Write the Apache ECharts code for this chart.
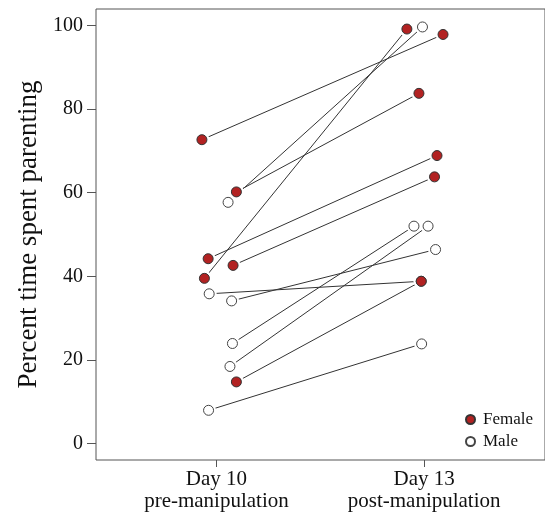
<!DOCTYPE html>
<html>
<head>
<meta charset="utf-8">
<script src="https://cdn.jsdelivr.net/npm/echarts@6/dist/echarts.min.js"></script>
<style>
  html, body { margin: 0; padding: 0; background: #fff; }
  #main { width: 545px; height: 514px; }
</style>
</head>
<body>
<div id="main"></div>
<script>
const dayTicks = [1, 2];
const dayLabels = ["Day 10\npre-manipulation", "Day 13\npost-manipulation"];
const yTicks = [0, 20, 40, 60, 80, 100];

// x positions are jittered around 1 (day 10) and 2 (day 13)
const femaleDay10X = [0.93, 1.096, 0.942, 0.96, 1.08, 1.096];
const femaleDay10 = [72.7, 60.2, 39.5, 44.2, 42.6, 14.7];
const femaleDay13X = [2.091, 1.975, 1.917, 2.062, 2.05, 1.986];
const femaleDay13 = [97.9, 83.8, 99.2, 68.9, 63.8, 38.8];

const maleDay10X = [1.056, 0.965, 1.073, 1.077, 1.065, 0.962];
const maleDay10 = [57.7, 35.8, 34.1, 23.9, 18.4, 7.9];
const maleDay13X = [1.992, 1.986, 2.055, 1.951, 2.019, 1.988];
const maleDay13 = [99.7, 38.8, 46.4, 52.0, 52.0, 23.8];

const serif = "Liberation Serif";

const pairLines = (x10, y10, x13, y13) =>
  y10.map((v, i) => ({
    type: "line",
    data: [[x10[i], v], [x13[i], y13[i]]],
    symbol: "none",
    silent: true,
    z: 1,
    lineStyle: { color: "#333", width: 1 },
  }));

const points = (x10, y10, x13, y13) =>
  [...y10.map((v, i) => [x10[i], v]), ...y13.map((v, i) => [x13[i], v])];

const femalePts = points(femaleDay10X, femaleDay10, femaleDay13X, femaleDay13);
const malePts = points(maleDay10X, maleDay10, maleDay13X, maleDay13);

const option = {
  animation: false,
  grid: {
    left: 96, top: 9, width: 451, height: 451,
    show: true, borderColor: "#555", borderWidth: 1,
  },
  xAxis: {
    type: "value",
    min: 0.42,
    max: 2.582,
    axisLine: { show: false, onZero: false },
    splitLine: { show: false },
    axisTick: { show: true, customValues: dayTicks, length: 7, lineStyle: { color: "#555" } },
    axisLabel: {
      customValues: dayTicks,
      formatter: (v) => dayLabels[Math.round(v) - 1],
      fontFamily: serif, fontSize: 21, color: "#111", lineHeight: 21.5, margin: 9,
    },
  },
  yAxis: {
    type: "value",
    min: -4,
    max: 104,
    name: "Percent time spent parenting",
    nameLocation: "middle",
    nameGap: 54,
    nameTextStyle: { fontFamily: serif, fontSize: 27, color: "#111" },
    axisLine: { show: false, onZero: false },
    splitLine: { show: false },
    axisTick: { show: true, customValues: yTicks, length: 9, lineStyle: { color: "#555" } },
    axisLabel: {
      customValues: yTicks,
      fontFamily: serif, fontSize: 20, color: "#111", margin: 13,
    },
  },
  legend: {
    orient: "vertical",
    left: 460,
    top: 406,
    itemWidth: 9,
    itemHeight: 9,
    itemGap: 5,
    data: ["Female", "Male"],
    textStyle: { fontFamily: serif, fontSize: 17, color: "#111", lineHeight: 17, padding: [0, 0, 0, 3] },
  },
  series: [
    ...pairLines(femaleDay10X, femaleDay10, femaleDay13X, femaleDay13),
    ...pairLines(maleDay10X, maleDay10, maleDay13X, maleDay13),
    {
      // white halo leaves a small gap where segments meet the points
      type: "scatter",
      data: [...malePts, ...femalePts],
      symbolSize: 15,
      silent: true,
      z: 2,
      itemStyle: { color: "#fff", opacity: 1 },
    },
    {
      name: "Male",
      type: "scatter",
      data: malePts,
      symbolSize: 10,
      z: 3,
      itemStyle: { color: "#fff", borderColor: "#444", borderWidth: 1, opacity: 1 },
    },
    {
      name: "Female",
      type: "scatter",
      data: femalePts,
      symbolSize: 10,
      z: 4,
      itemStyle: { color: "#b22222", borderColor: "#333", borderWidth: 1, opacity: 1 },
    },
  ],
};

const myChart = echarts.init(document.getElementById("main"));
myChart.setOption(option);
</script>
</body>
</html>
